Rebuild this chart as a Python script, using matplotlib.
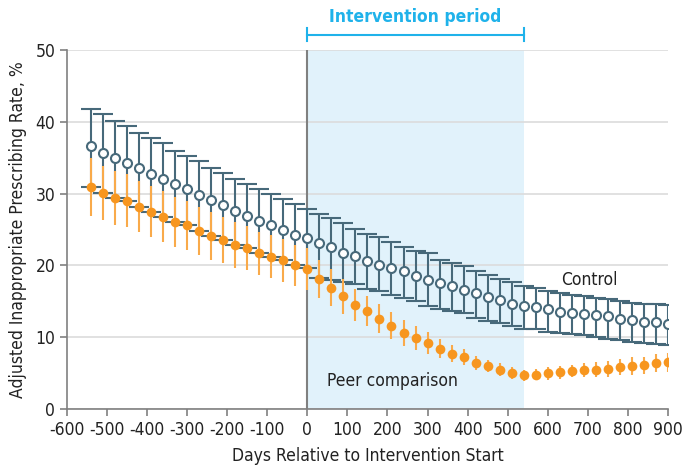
import matplotlib.pyplot as plt

plt.rcParams['font.family'] = ['DejaVu Sans']
plt.rcParams['font.stretch'] = 'condensed'
plt.rcParams['axes.unicode_minus'] = False

days = list(range(-540, 901, 30))

# open circles, usual care group
control = [36.6, 35.7, 34.9, 34.2, 33.5, 32.8, 32.0, 31.3, 30.6, 29.8,
           29.1, 28.4, 27.6, 26.9, 26.2, 25.7, 25.0, 24.3, 23.8,
           23.1, 22.5, 21.8, 21.3, 20.6, 20.1, 19.6, 19.2, 18.5, 18.0,
           17.6, 17.1, 16.6, 16.2, 15.6, 15.2, 14.6, 14.4,
           14.2, 13.9, 13.5, 13.4, 13.2, 13.1, 12.9, 12.6, 12.4, 12.1, 12.1, 11.9]
control_hi = [41.8, 41.1, 40.1, 39.4, 38.5, 37.7, 37.0, 36.0, 35.3, 34.5,
              33.6, 32.9, 32.1, 31.4, 30.7, 30.0, 29.2, 28.5, 27.8,
              27.2, 26.6, 25.9, 25.1, 24.4, 23.9, 23.2, 22.5, 22.0, 21.7,
              20.8, 20.3, 19.9, 19.2, 18.7, 18.1, 17.7, 17.1,
              16.9, 16.5, 16.2, 15.9, 15.7, 15.5, 15.3, 15.0, 14.8, 14.6, 14.6, 14.5]
control_lo = [30.9, 30.1, 29.4, 29.0, 28.2, 27.5, 26.8, 26.0, 25.6, 24.8,
              24.1, 23.6, 22.9, 22.4, 21.7, 21.2, 20.7, 20.0, 19.6,
              18.3, 18.0, 17.7, 17.4, 16.7, 16.4, 15.9, 15.4, 15.0, 14.4,
              14.0, 13.7, 13.4, 12.7, 12.3, 12.0, 11.6, 11.2,
              11.1, 10.8, 10.6, 10.5, 10.3, 10.1, 9.8, 9.6, 9.4, 9.2, 9.1, 8.9]

# filled circles, peer comparison group
peer = [30.9, 30.1, 29.4, 29.0, 28.2, 27.5, 26.8, 26.0, 25.6, 24.8,
        24.1, 23.6, 22.9, 22.4, 21.7, 21.2, 20.7, 20.0, 19.5,
        18.1, 16.9, 15.7, 14.5, 13.6, 12.6, 11.6, 10.6, 9.9, 9.2,
        8.4, 7.7, 7.2, 6.4, 6.0, 5.5, 5.0, 4.7,
        4.8, 5.0, 5.1, 5.3, 5.4, 5.5, 5.6, 5.9, 6.0, 6.1, 6.4, 6.5]
peer_err = [4.0, 3.8, 3.7, 3.7, 3.6, 3.6, 3.5, 3.5, 3.4, 3.4,
            3.3, 3.2, 3.2, 3.1, 3.0, 3.0, 3.0, 2.9, 2.9,
            2.6, 2.6, 2.4, 2.2, 2.1, 2.0, 1.9, 1.8, 1.7, 1.5,
            1.3, 1.2, 1.1, 1.0, 0.9, 0.85, 0.8, 0.8,
            0.8, 0.9, 0.9, 0.9, 1.0, 1.0, 1.1, 1.1, 1.2, 1.2, 1.3, 1.3]

dark = '#47697a'
orange = '#f7961f'
orange_bar = '#f9aa4a'
blue = '#1fb2ea'

fig = plt.figure(figsize=(6.83, 4.67), dpi=100)
ax = fig.add_axes([0.098, 0.124, 0.88, 0.769])

ax.axvspan(0, 540, color='#e1f2fb', zorder=0, lw=0)
ax.axvline(0, color='#808080', lw=1.5, zorder=1)
ax.grid(axis='y', color='#dcdcdc', lw=1.2, zorder=0.5)
ax.set_axisbelow(True)

yerr_c = [[c - lo for c, lo in zip(control, control_lo)],
          [hi - c for c, hi in zip(control, control_hi)]]
ax.errorbar(days, control, yerr=yerr_c, fmt='o', color=dark, mfc='white', mec=dark,
            mew=1.5, ms=6.5, ecolor=dark, elinewidth=1.5, capsize=7, capthick=1.5, zorder=3)

ax.errorbar(days, peer, yerr=peer_err, fmt='o', color=orange, ms=7, mew=0,
            ecolor=orange_bar, elinewidth=1.5, capsize=7, capthick=1.5, zorder=4)

ax.text(705, 18.0, 'Control', fontsize=12.5, ha='center', va='center', color='#222222')
ax.text(213, 3.9, 'Peer comparison', fontsize=12.5, ha='center', va='center', color='#222222')

# intervention period bracket above the plot
ax.plot([0, 540], [52.1, 52.1], color=blue, lw=1.5, clip_on=False)
ax.plot([0, 0], [51.2, 53.0], color=blue, lw=1.5, clip_on=False)
ax.plot([540, 540], [51.2, 53.0], color=blue, lw=1.5, clip_on=False)
ax.text(270, 54.6, 'Intervention period', fontsize=12.5, fontweight='bold', color=blue,
        ha='center', va='center')

ax.set_xlim(-600, 900)
ax.set_ylim(0, 50)
ax.set_xticks(range(-600, 901, 100))
ax.set_yticks(range(0, 51, 10))
ax.tick_params(labelsize=12.5, color='#808080', length=5, width=1.2, labelcolor='#222222')
for s in ['top', 'right']:
    ax.spines[s].set_visible(False)
for s in ['left', 'bottom']:
    ax.spines[s].set_color('#808080')
    ax.spines[s].set_linewidth(1.2)

ax.set_xlabel('Days Relative to Intervention Start', fontsize=12.5, color='#222222', labelpad=6)
ax.set_ylabel('Adjusted Inappropriate Prescribing Rate, %', fontsize=12.5, color='#222222', labelpad=6)

fig.savefig('out.png', dpi=100)
